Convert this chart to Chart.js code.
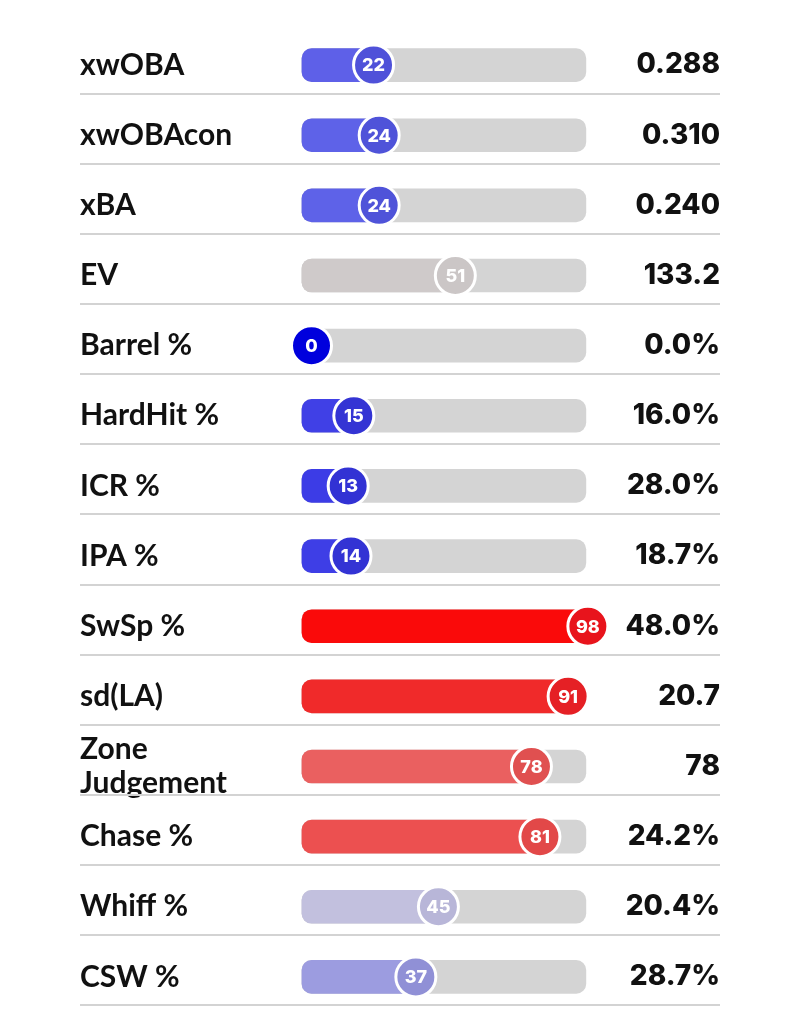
<!DOCTYPE html>
<html>
<head>
<meta charset="utf-8">
<script src="https://cdn.jsdelivr.net/npm/chart.js@4.4.1/dist/chart.umd.min.js"></script>
<style>
  body { margin: 0; background: #fff; }
  #wrap { width: 800px; height: 1035px; }
</style>
</head>
<body>
<div id="wrap"><canvas id="pctChart"></canvas></div>
<script>
// stat names, percentile ranks and the raw values shown on the right
const labels = ["xwOBA", "xwOBAcon", "xBA", "EV", "Barrel %", "HardHit %", "ICR %", "IPA %",
  "SwSp %", "sd(LA)", ["Zone", "Judgement"], "Chase %", "Whiff %", "CSW %"];
const percentiles = [22, 24, 24, 51, 0, 15, 13, 14, 98, 91, 78, 81, 45, 37];
const statValues = ["0.288", "0.310", "0.240", "133.2", "0.0%", "16.0%", "28.0%", "18.7%",
  "48.0%", "20.7", "78", "24.2%", "20.4%", "28.7%"];

const fillColors = ["#5e60e8", "#5e62e8", "#5e62e8", "#cfcaca", "#0000dd", "#4040e6", "#3c3ce6", "#3e3ee6",
  "#fa0a0a", "#f02a2a", "#ea6060", "#ec5050", "#c2c0de", "#9c9ce0"];
const circleColors = ["#4f51d9", "#4f53d9", "#4f53d9", "#cbc6c6", "#0000dd", "#3434d4", "#3232d4", "#3333d4",
  "#e8141c", "#e52025", "#e05050", "#e24848", "#b8b6d8", "#9090d6"];

// the gray track runs a little either side of the 0..100 circle range
const TRACK_START = -3.4;
const TRACK_END = 97.3;

const separators = {
  id: "separators",
  beforeDatasetsDraw(chart) {
    const { ctx, chartArea, scales } = chart;
    const y = scales.y;
    const step = (chartArea.bottom - chartArea.top) / labels.length;
    ctx.save();
    ctx.strokeStyle = "#d3d3d3";
    ctx.lineWidth = 2;
    labels.forEach((l, i) => {
      const py = Math.round(y.getPixelForValue(i) + step * 0.406);
      ctx.beginPath();
      ctx.moveTo(chartArea.left, py);
      ctx.lineTo(chartArea.right, py);
      ctx.stroke();
    });
    ctx.restore();
  }
};

const circleText = {
  id: "circleText",
  afterDatasetsDraw(chart) {
    const { ctx } = chart;
    const meta = chart.getDatasetMeta(2);
    ctx.save();
    ctx.fillStyle = "#fff";
    ctx.font = "800 18px Inter";
    ctx.textAlign = "center";
    ctx.textBaseline = "middle";
    meta.data.forEach((pt, i) => {
      ctx.fillText(String(percentiles[i]), pt.x, pt.y + 1);
    });
    ctx.restore();
  }
};

new Chart(document.getElementById("pctChart"), {
  type: "bar",
  data: {
    labels: labels,
    datasets: [
      {
        data: labels.map(() => [TRACK_START, TRACK_END]),
        backgroundColor: "#d4d4d4",
        borderRadius: 10,
        borderSkipped: false,
        barThickness: 33,
        grouped: false,
        order: 3
      },
      {
        data: percentiles.map(p => [TRACK_START, p]),
        backgroundColor: fillColors,
        borderRadius: 10,
        borderSkipped: false,
        barThickness: 33,
        grouped: false,
        order: 2
      },
      {
        type: "scatter",
        data: percentiles.map((p, i) => ({ x: p, y: labels[i] })),
        pointRadius: 20,
        pointHoverRadius: 20,
        pointBackgroundColor: circleColors,
        pointBorderColor: "#fff",
        pointBorderWidth: 3,
        clip: false,
        order: 1
      }
    ]
  },
  options: {
    indexAxis: "y",
    responsive: true,
    maintainAspectRatio: false,
    animation: false,
    layout: { padding: { left: 80, right: 80, top: 30, bottom: 22 } },
    plugins: { legend: { display: false }, tooltip: { enabled: false } },
    scales: {
      x: { type: "linear", min: -82.1, max: 144.86, display: false },
      y: {
        type: "category",
        position: "left",
        grid: { display: false, drawTicks: false },
        border: { display: false },
        ticks: {
          autoSkip: false,
          mirror: true,
          crossAlign: "near",
          padding: 0,
          color: "#111",
          font: { family: "Lato", weight: "bold", size: 30, lineHeight: 1.12 }
        },
        afterFit(s) { s.width = 0; }
      },
      y2: {
        type: "category",
        labels: statValues,
        position: "right",
        grid: { display: false, drawTicks: false },
        border: { display: false },
        ticks: {
          autoSkip: false,
          mirror: true,
          crossAlign: "near",
          padding: 0,
          color: "#111",
          font: { family: "Inter", weight: "800", size: 28 }
        },
        afterFit(s) { s.width = 0; }
      }
    }
  },
  plugins: [separators, circleText]
});
</script>
</body>
</html>
